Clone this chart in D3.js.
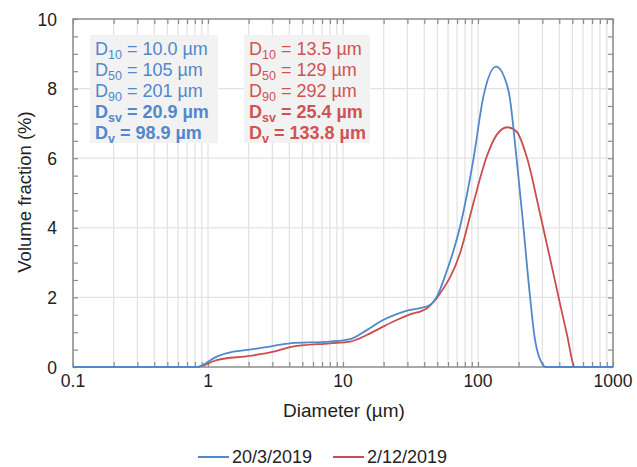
<!DOCTYPE html>
<html>
<head>
<meta charset="utf-8">
<script src="https://cdn.jsdelivr.net/npm/d3@7"></script>
<style>
  body { margin: 0; background: #fff; }
  text { font-family: "Liberation Sans", Arial, sans-serif; }
</style>
</head>
<body>
<svg></svg>
<script>
// particle size distributions
var blueDiam = [0.1, 0.83, 1.16, 1.54, 2.05, 3.07, 4.05, 8.0, 11.3, 15, 19.8, 25, 31.3, 37.2, 44, 50, 58, 65.3, 73.6, 92.3, 109.6, 136, 167.8, 193.5, 216.9, 242.9, 264.4, 304.6, 315, 1000]
var blueVal  = [0, 0, 0.3, 0.44, 0.5, 0.61, 0.68, 0.73, 0.8, 1.06, 1.35, 1.52, 1.64, 1.69, 1.78, 2.05, 2.7, 3.3, 4.03, 5.95, 7.77, 8.63, 7.96, 5.95, 4.03, 2.02, 0.78, 0.05, 0, 0]

var redDiam = [0.1, 0.83, 1.16, 2.05, 3.07, 4.05, 8.0, 11.3, 15, 19.8, 25, 31.3, 41.9, 52.3, 73.6, 92.3, 115.9, 137.5, 164.8, 193.5, 229.5, 287.7, 361.5, 454, 523, 1000]
var redVal  = [0, 0, 0.2, 0.32, 0.44, 0.57, 0.68, 0.73, 0.92, 1.16, 1.35, 1.51, 1.69, 2.11, 3.27, 4.70, 6.04, 6.67, 6.89, 6.76, 6.04, 4.42, 2.69, 0.97, 0, 0]

var seriesNames = ['20/3/2019', '2/12/2019']

// stat labels: [subscript, value text, bold]
var blueStats = [['10', ' = 10.0 µm', false], ['50', ' = 105 µm', false], ['90', ' = 201 µm', false], ['sv', ' = 20.9 µm', true], ['v', ' = 98.9 µm', true]]
var redStats  = [['10', ' = 13.5 µm', false], ['50', ' = 129 µm', false], ['90', ' = 292 µm', false], ['sv', ' = 25.4 µm', true], ['v', ' = 133.8 µm', true]]

var xTicks = [0.1, 1, 10, 100, 1000]
var yTicks = [0, 2, 4, 6, 8, 10]

var width = 637
var height = 467
var plotL = 73, plotR = 613, plotT = 19, plotB = 367

var blue = '#5088cc'
var red = '#cc4d4d'
var frame = '#8c8c8c'
var gridCol = '#e3e3e3'

var svg = d3.select('svg')
  .attr('width', width)
  .attr('height', height)

var xScale = d3.scaleLog()
  .domain([0.1, 1000])
  .range([plotL, plotR])

var yScale = d3.scaleLinear()
  .domain([0, 10])
  .range([plotB, plotT])

// all log minor positions
var minor = []
for (var e = -1; e < 3; e++) {
  for (var m = 1; m < 10; m++) minor.push(m * Math.pow(10, e))
}
minor.push(1000)

// vertical grid
svg.append('g')
  .selectAll('line')
  .data(minor)
  .enter()
  .append('line')
    .attr('x1', d => xScale(d))
    .attr('x2', d => xScale(d))
    .attr('y1', plotT)
    .attr('y2', plotB)
    .attr('stroke', gridCol)
    .attr('stroke-width', 1.3)

// horizontal grid
svg.append('g')
  .selectAll('line')
  .data(yTicks.slice(1, -1))
  .enter()
  .append('line')
    .attr('x1', plotL)
    .attr('x2', plotR)
    .attr('y1', d => yScale(d))
    .attr('y2', d => yScale(d))
    .attr('stroke', gridCol)
    .attr('stroke-width', 1.3)

// stat boxes
function statBox(stats, x0, boxW, color) {
  svg.append('rect')
    .attr('x', x0 - 5)
    .attr('y', 35)
    .attr('width', boxW)
    .attr('height', 108)
    .attr('fill', '#f2f2f2')

  stats.forEach(function (s, i) {
    var t = svg.append('text')
      .attr('x', x0)
      .attr('y', 54.5 + i * 21)
      .attr('fill', color)
      .style('font-size', '18px')
      .style('font-weight', s[2] ? 'bold' : 'normal')
    t.append('tspan').text('D')
    t.append('tspan')
      .attr('dy', 4)
      .style('font-size', '12.5px')
      .text(s[0])
    t.append('tspan')
      .attr('dy', -4)
      .text(s[1])
  })
}
statBox(blueStats, 95, 128, '#5088cc')
statBox(redStats, 249, 126, '#cf5353')

// frame
svg.append('rect')
  .attr('x', plotL)
  .attr('y', plotT)
  .attr('width', plotR - plotL)
  .attr('height', plotB - plotT)
  .attr('fill', 'none')
  .attr('stroke', frame)
  .attr('stroke-width', 1.5)

// inward ticks on all four sides
var yMinor = d3.range(0, 10.01, 0.5)
svg.append('g')
  .attr('transform', 'translate(' + plotL + ',0)')
  .call(d3.axisRight(yScale).tickValues(yMinor).tickSize(5).tickFormat(''))
svg.append('g')
  .attr('transform', 'translate(' + plotR + ',0)')
  .call(d3.axisLeft(yScale).tickValues(yMinor).tickSize(5).tickFormat(''))
svg.append('g')
  .attr('transform', 'translate(0,' + plotB + ')')
  .call(d3.axisTop(xScale).tickValues(minor).tickSize(5).tickFormat(''))
svg.append('g')
  .attr('transform', 'translate(0,' + plotT + ')')
  .call(d3.axisBottom(xScale).tickValues(minor).tickSize(5).tickFormat(''))
svg.selectAll('.domain').remove()
svg.selectAll('.tick line').attr('stroke', frame).attr('stroke-width', 1.2)

// tick labels
svg.append('g')
  .selectAll('text')
  .data(xTicks)
  .enter()
  .append('text')
    .attr('x', d => xScale(d))
    .attr('y', 386.5)
    .style('text-anchor', 'middle')
    .style('font-size', '17.5px')
    .attr('fill', '#222')
    .text(d => d)

svg.append('g')
  .selectAll('text')
  .data(yTicks)
  .enter()
  .append('text')
    .attr('x', plotL - 16)
    .attr('y', d => yScale(d) + 6.5)
    .style('text-anchor', 'end')
    .style('font-size', '17.5px')
    .attr('fill', '#222')
    .text(d => d)

// axis titles
svg.append('text')
  .attr('x', 344)
  .attr('y', 417)
  .style('text-anchor', 'middle')
  .style('font-size', '19px')
  .attr('fill', '#222')
  .text('Diameter (µm)')

svg.append('text')
  .attr('transform', 'rotate(-90)')
  .attr('x', -192)
  .attr('y', 31)
  .style('text-anchor', 'middle')
  .style('font-size', '18.5px')
  .attr('fill', '#222')
  .text('Volume fraction (%)')

// curves
var line = d3.line()
  .x(d => xScale(d[0]))
  .y(d => yScale(d[1]))
  .curve(d3.curveMonotoneX)

var redPts = d3.zip(redDiam, redVal)
var bluePts = d3.zip(blueDiam, blueVal)

svg.append('path')
  .datum(redPts)
  .attr('d', line)
  .attr('fill', 'none')
  .attr('stroke', red)
  .attr('stroke-width', 1.8)

svg.append('path')
  .datum(bluePts)
  .attr('d', line)
  .attr('fill', 'none')
  .attr('stroke', blue)
  .attr('stroke-width', 1.8)

// legend
var legend = svg.append('g')
var legendX = [198, 333]
var legendCol = [blue, red]
seriesNames.forEach(function (name, i) {
  legend.append('line')
    .attr('x1', legendX[i])
    .attr('x2', legendX[i] + 31)
    .attr('y1', 457)
    .attr('y2', 457)
    .attr('stroke', legendCol[i])
    .attr('stroke-width', 2)
  legend.append('text')
    .attr('x', legendX[i] + 34)
    .attr('y', 463)
    .style('font-size', '18px')
    .attr('fill', '#222')
    .text(name)
})
</script>
</body>
</html>
